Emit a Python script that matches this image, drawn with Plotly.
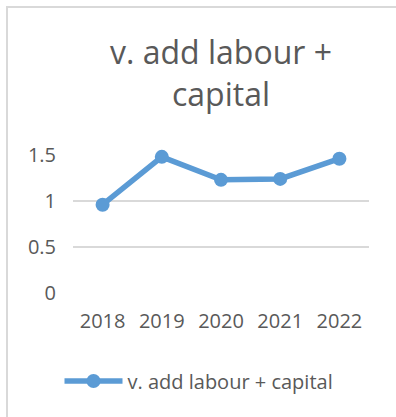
import plotly.graph_objects as go

years = ["2018", "2019", "2020", "2021", "2022"]
values = [0.96, 1.48, 1.23, 1.24, 1.46]
series_name = "v. add labour + capital"
y_ticks = [0, 0.5, 1, 1.5]

W, H = 396, 417
L, R, T, B = 73, 27, 155, 124
pw, ph = W - L - R, H - T - B

def px_x(x):
    return (x - L) / pw

def px_y(y):
    return (H - B - y) / ph

fig = go.Figure()
fig.add_trace(go.Scatter(
    x=years, y=values, name=series_name, mode="lines+markers",
    line=dict(color="#5B9BD5", width=5.5),
    marker=dict(color="#5B9BD5", size=14),
    cliponaxis=False,
))

# chart frame (left and top edges)
fig.add_shape(type="path", xref="paper", yref="paper",
              path=f"M {px_x(7)} {px_y(420)} L {px_x(7)} {px_y(7)} L {px_x(400)} {px_y(7)}",
              line=dict(color="#D9D9D9", width=2))

fig.update_layout(
    width=W, height=H,
    margin=dict(l=L, r=R, t=T, b=B),
    paper_bgcolor="white", plot_bgcolor="white",
    font=dict(family="Open Sans, Liberation Sans, sans-serif", color="#595959"),
    title=dict(text="v. add labour +<br>capital", x=0.5, xref="paper",
               y=1 - 64 / H, yref="container", yanchor="middle",
               font=dict(size=32, color="#595959")),
    showlegend=True,
    legend=dict(orientation="h", x=0.5 - 22 / pw, xanchor="center", xref="paper",
                y=px_y(381), yanchor="middle", font=dict(size=20, color="#595959"),
                itemwidth=58),
    xaxis=dict(type="category", range=[-0.5, len(years) - 0.5],
               showgrid=False, showline=False, ticks="",
               tickfont=dict(size=20, color="#595959"), ticklabelstandoff=14),
    yaxis=dict(range=[0, 1.5], tickvals=y_ticks, ticktext=["0", "0.5", "1", "1.5"],
               showgrid=True, gridcolor="#D9D9D9", gridwidth=1.5,
               zeroline=False, showline=False, ticks="",
               tickfont=dict(size=20, color="#595959"), ticklabelstandoff=16),
)

fig.write_html("out.html")
